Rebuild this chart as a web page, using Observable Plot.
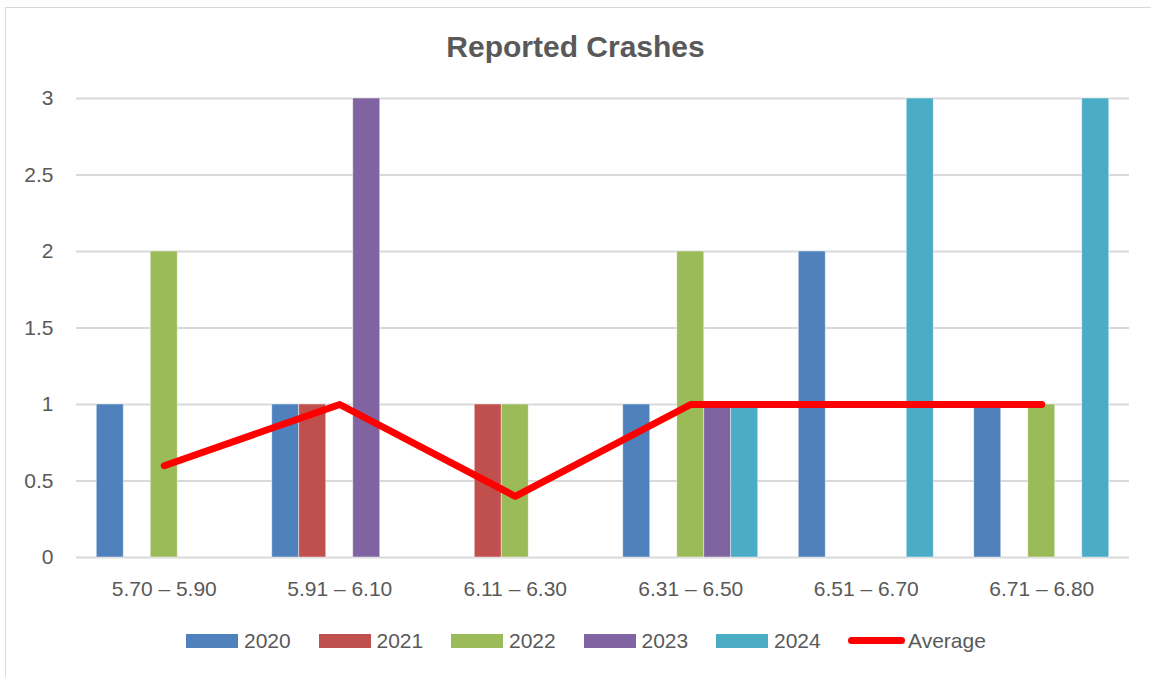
<!DOCTYPE html>
<html>
<head>
<meta charset="utf-8">
<script src="https://cdn.jsdelivr.net/npm/d3@7"></script>
<script src="https://cdn.jsdelivr.net/npm/@observablehq/plot@0.6"></script>
<style>
  html, body { margin: 0; padding: 0; background: #fff; overflow: hidden; width: 1151px; height: 677px; }
  #frame { position: absolute; left: 5px; top: 7px; width: 1300px; height: 800px; border: 1.5px solid #d9d9d9; box-sizing: border-box; pointer-events: none; }
  #wrap { position: absolute; left: 0; top: 0; width: 1151px; font-family: "Liberation Sans", Arial, sans-serif; color: #595959; }
  #title { height: 80px; box-sizing: border-box; padding-top: 32px; text-align: center; font-size: 30px; line-height: 30px; font-weight: bold; color: #595959; }
  #chart svg { display: block; }
  #legend { position: relative; height: 67px; }
  #legend .item { position: absolute; top: 20px; display: flex; align-items: center; height: 21px; font-size: 21px; line-height: 21px; }
  #legend .sw { width: 52px; height: 14px; margin-right: 6px; }
  #legend .ln { width: 57px; height: 7px; border-radius: 3.5px; margin-right: 3px; }
</style>
</head>
<body>
<div id="frame"></div>
<div id="wrap">
  <div id="title">Reported Crashes</div>
  <div id="chart"></div>
  <div id="legend"></div>
</div>
<script>
const categories = ["5.70 – 5.90", "5.91 – 6.10", "6.11 – 6.30", "6.31 – 6.50", "6.51 – 6.70", "6.71 – 6.80"];
const years = ["2020", "2021", "2022", "2023", "2024"];
const crashes2020 = [1, 1, 0, 1, 2, 1];
const crashes2021 = [0, 1, 1, 0, 0, 0];
const crashes2022 = [2, 0, 1, 2, 0, 1];
const crashes2023 = [0, 3, 0, 1, 0, 0];
const crashes2024 = [0, 0, 0, 1, 3, 3];
const average = [0.6, 1, 0.4, 1, 1, 1];
const yTicks = [0, 0.5, 1, 1.5, 2, 2.5, 3];
const yearColors = ["#4F81BD", "#C0504D", "#9BBB59", "#8064A2", "#4BACC6"];
const averageColor = "#FF0000";
const averageLabel = "Average";

const series = [crashes2020, crashes2021, crashes2022, crashes2023, crashes2024];

const barW = 27;
const bandW = (1151 - 76 - 22) / categories.length;
const inset = (bandW - barW) / 2;

const barMarks = series.map((vals, j) =>
  Plot.barY(
    categories.map((c, i) => ({category: c, value: vals[i], year: years[j]})).filter(d => d.value > 0),
    {x: "category", y: "value", fill: yearColors[j], stroke: "#ffffff", strokeOpacity: 0.55, strokeWidth: 0.8,
     insetLeft: inset, insetRight: inset, dx: (j - 2) * barW}
  )
);

const avgData = categories.map((c, i) => ({category: c, value: average[i]}));

const chart = Plot.plot({
  width: 1151,
  height: 530,
  marginTop: 18,
  marginBottom: 53,
  marginLeft: 76,
  marginRight: 22,
  style: {fontFamily: "'Liberation Sans', Arial, sans-serif", fontSize: "21px", color: "#595959", background: "transparent"},
  x: {domain: categories, padding: 0, round: false, axis: null, label: null},
  y: {domain: [0, 3], axis: null, label: null},
  marks: [
    Plot.gridY(yTicks, {stroke: "#d9d9d9", strokeOpacity: 1, strokeWidth: 2}),
    ...barMarks,
    Plot.line(avgData, {x: "category", y: "value", stroke: averageColor, strokeWidth: 7, strokeLinecap: "round", strokeLinejoin: "round"}),
    Plot.axisY(yTicks, {tickSize: 0, tickPadding: 23, fontSize: 21, label: null, tickFormat: d => String(d), fill: "#595959"}),
    Plot.axisX({tickSize: 0, tickPadding: 24, fontSize: 21, label: null, fill: "#595959"})
  ]
});
document.getElementById("chart").appendChild(chart);

// Legend
const legend = document.getElementById("legend");
const startX = 186, step = 132.5;
years.forEach((y, j) => {
  const it = document.createElement("div");
  it.className = "item";
  it.style.left = (startX + j * step) + "px";
  const sw = document.createElement("div");
  sw.className = "sw";
  sw.style.background = yearColors[j];
  const tx = document.createElement("span");
  tx.textContent = y;
  it.appendChild(sw); it.appendChild(tx);
  legend.appendChild(it);
});
{
  const it = document.createElement("div");
  it.className = "item";
  it.style.left = "848px";
  const ln = document.createElement("div");
  ln.className = "ln";
  ln.style.background = averageColor;
  const tx = document.createElement("span");
  tx.textContent = averageLabel;
  it.appendChild(ln); it.appendChild(tx);
  legend.appendChild(it);
}
</script>
</body>
</html>
